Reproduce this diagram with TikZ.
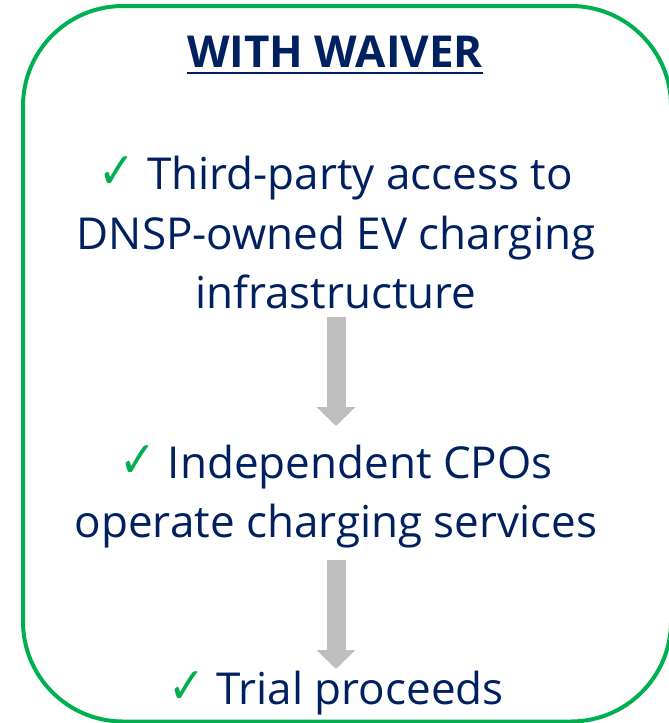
\documentclass[tikz,border=0pt]{standalone}
\usepackage{graphicx}
\usepackage{fontspec}
\setmainfont{Open Sans}
\newfontfamily\checkfont{DejaVu Sans}
\usetikzlibrary{arrows.meta}
\definecolor{navy}{HTML}{002060}
\definecolor{ckgreen}{HTML}{00B050}
\definecolor{arrowgray}{HTML}{BFBFBF}
\newcommand\ck{{\checkfont\bfseries\color{ckgreen}\raisebox{1pt}{\scalebox{1}[1.15]{✓}}}}
\begin{document}
\begin{tikzpicture}[x=1pt,y=-1pt,
  txt/.style={anchor=base, inner sep=0pt, text=navy, font=\fontsize{44}{54}\selectfont},
  headline/.style={anchor=base, inner sep=0pt, text=navy, font=\fontsize{44}{52}\selectfont\bfseries},
  flow/.style={draw=arrowgray, line width=19pt, -{Triangle[length=19pt,width=38pt]}},
  frame/.style={draw=ckgreen, line width=4pt, rounded corners=100pt}]
\useasboundingbox (0,0) rectangle (669,723);
\draw[frame] (23,6) rectangle (671,721.5);
\node[headline] (h) at (335,67) {WITH WAIVER};
\draw[navy, line width=1.5pt] ([yshift=-6pt]h.base west) -- ([yshift=-6pt]h.base east);
\node[txt] (l1) at (336,189) {\ck{} Third-party access to};
\node[txt] (l2) at (336,249) {DNSP-owned EV charging};
\node[txt] (l3) at (336,308) {infrastructure};
\node[txt] (l4) at (336,478) {\ck{} Independent CPOs};
\node[txt] (l5) at (336,537) {operate charging services};
\node[txt] (l6) at (336,704) {\ck{} Trial proceeds};
\draw[flow] ([yshift=-9pt]l3.base) -- ([yshift=52pt]l4.base);
\draw[flow] ([yshift=-23pt]l5.base) -- ([yshift=35pt]l6.base);
\end{tikzpicture}
\end{document}
